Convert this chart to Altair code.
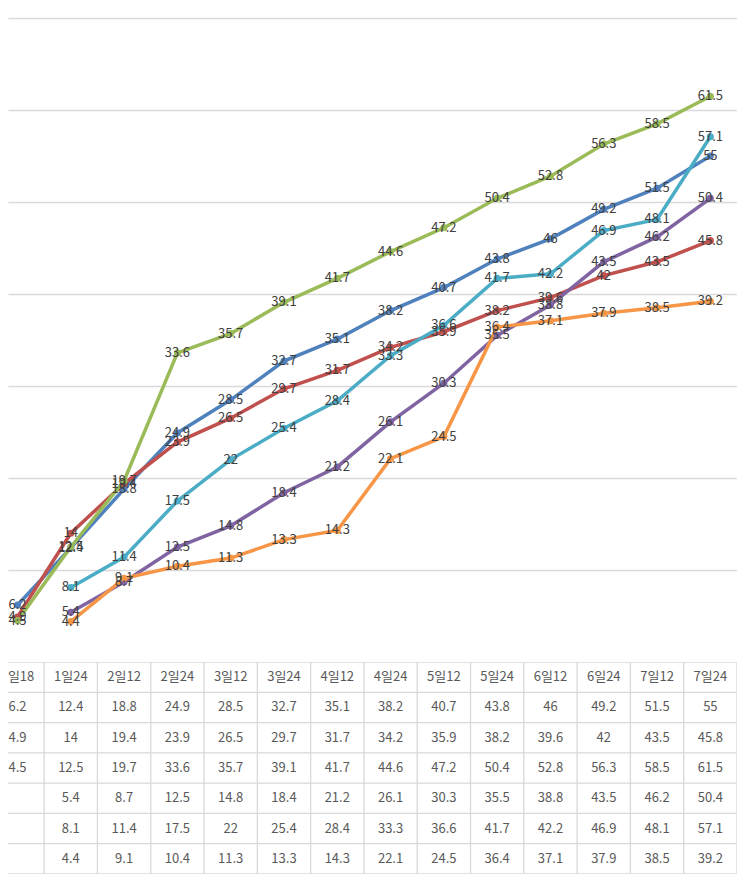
import altair as alt
import pandas as pd

categories = ["1일18", "1일24", "2일12", "2일24", "3일12", "3일24", "4일12",
              "4일24", "5일12", "5일24", "6일12", "6일24", "7일12", "7일24"]
series_names = ["계열1", "계열2", "계열3", "계열4", "계열5", "계열6"]
colors = ["#4F81BD", "#C0504D", "#9BBB59", "#8064A2", "#4BACC6", "#F79646"]

s1 = [6.2, 12.4, 18.8, 24.9, 28.5, 32.7, 35.1, 38.2, 40.7, 43.8, 46, 49.2, 51.5, 55]
s2 = [4.9, 14, 19.4, 23.9, 26.5, 29.7, 31.7, 34.2, 35.9, 38.2, 39.6, 42, 43.5, 45.8]
s3 = [4.5, 12.5, 19.7, 33.6, 35.7, 39.1, 41.7, 44.6, 47.2, 50.4, 52.8, 56.3, 58.5, 61.5]
s4 = [None, 5.4, 8.7, 12.5, 14.8, 18.4, 21.2, 26.1, 30.3, 35.5, 38.8, 43.5, 46.2, 50.4]
s5 = [None, 8.1, 11.4, 17.5, 22, 25.4, 28.4, 33.3, 36.6, 41.7, 42.2, 46.9, 48.1, 57.1]
s6 = [None, 4.4, 9.1, 10.4, 11.3, 13.3, 14.3, 22.1, 24.5, 36.4, 37.1, 37.9, 38.5, 39.2]
all_series = [s1, s2, s3, s4, s5, s6]

FONT = "Noto Sans CJK KR"
X_LO, X_HI = -0.178, 13.5
W = 729
H_TOP = 654
Y_HI = 70 * H_TOP / 644
H_TAB = 212

rows = []
for si, (name, vals) in enumerate(zip(series_names, all_series)):
    for ci, v in enumerate(vals):
        if v is None:
            continue
        rows.append({"idx": ci, "cat": categories[ci], "series": name,
                     "sorder": si, "value": v, "label": f"{v:g}"})
df = pd.DataFrame(rows)

xs = alt.Scale(domain=[X_LO, X_HI], nice=False, zero=False)
color = alt.Color("series:N", scale=alt.Scale(domain=series_names, range=colors), legend=None)

base = alt.Chart(df).encode(
    x=alt.X("idx:Q", scale=xs, axis=None),
    y=alt.Y("value:Q", scale=alt.Scale(domain=[0, Y_HI], nice=False),
            axis=alt.Axis(values=list(range(10, 80, 10)), labels=False, ticks=False,
                          domain=False, grid=True, gridColor="#D9D9D9", gridWidth=1.3,
                          title=None, minExtent=0, maxExtent=0)),
)
lines = base.mark_line(strokeWidth=3.5, clip=True).encode(
    color=color, detail="series:N", order="idx:Q")
points = base.mark_circle(size=50, opacity=1, clip=True).encode(color=color)
labels = base.mark_text(fontSize=13, font=FONT, color="#404040", clip=True).encode(
    text="label:N")
top = alt.layer(lines, points, labels).properties(width=W, height=H_TOP)

# data table
cells = []
for ci, c in enumerate(categories):
    cells.append({"idx": ci, "row": 0.5, "text": c})
for si, vals in enumerate(all_series):
    for ci, v in enumerate(vals):
        if v is None:
            continue
        cells.append({"idx": ci, "row": si + 1.5, "text": f"{v:g}"})
cells_df = pd.DataFrame(cells)

n_rows = len(series_names) + 1
vlines = pd.DataFrame({"b": [i + 0.5 for i in range(len(categories))],
                       "r0": 0, "r1": n_rows})
hlines = pd.DataFrame({"r": list(range(n_rows + 1)), "x0": X_LO, "x1": X_HI})
ys = alt.Scale(domain=[0, n_rows], nice=False, zero=False, reverse=True)

vrule = alt.Chart(vlines).mark_rule(color="#D9D9D9", strokeWidth=1.3, clip=True).encode(
    x=alt.X("b:Q", scale=xs, axis=None),
    y=alt.Y("r0:Q", scale=ys, axis=None), y2="r1:Q")
hrule = alt.Chart(hlines).mark_rule(color="#D9D9D9", strokeWidth=1.3, clip=True).encode(
    y=alt.Y("r:Q", scale=ys, axis=None),
    x=alt.X("x0:Q", scale=xs, axis=None), x2="x1:Q")
ctext = alt.Chart(cells_df).mark_text(fontSize=13, font=FONT, color="#595959", clip=True).encode(
    x=alt.X("idx:Q", scale=xs, axis=None),
    y=alt.Y("row:Q", scale=ys, axis=None),
    text="text:N")
table = alt.layer(vrule, hrule, ctext).properties(width=W, height=H_TAB)

chart = alt.vconcat(top, table, spacing=0).properties(padding=0).configure_view(stroke=None)

chart.save("out.html", embed_options={"renderer": "svg", "actions": False})
